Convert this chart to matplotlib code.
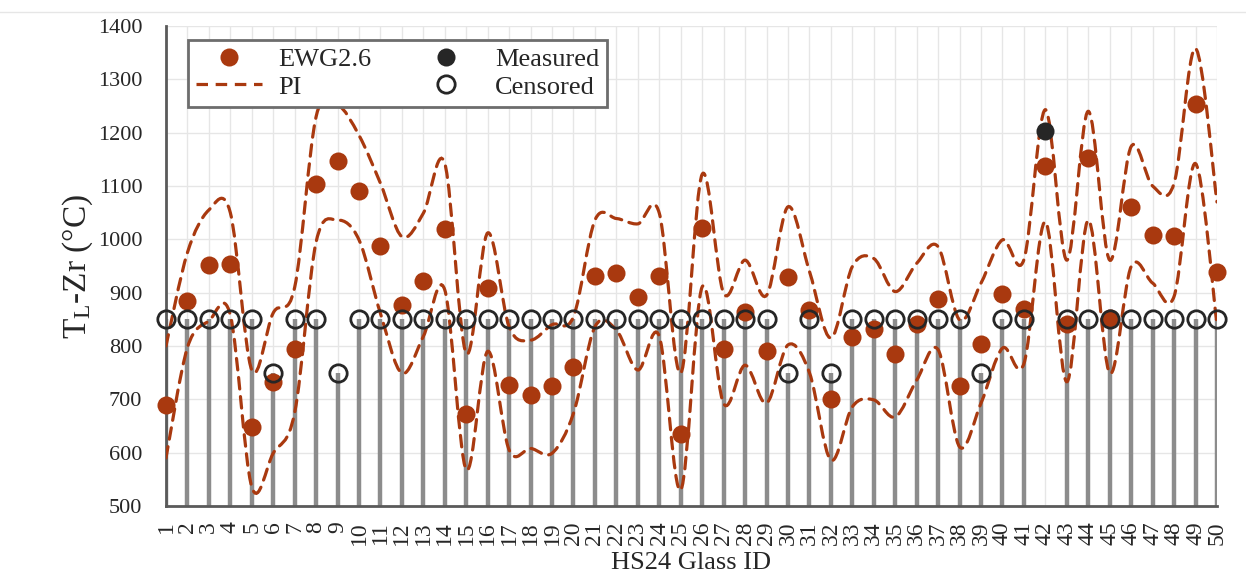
import numpy as np
import matplotlib.pyplot as plt
from matplotlib.path import Path
from matplotlib.patches import PathPatch
from matplotlib.lines import Line2D

plt.rcParams['font.family'] = ['Liberation Serif', 'DejaVu Serif']
plt.rcParams['mathtext.fontset'] = 'custom'
plt.rcParams['mathtext.rm'] = 'Liberation Serif'
plt.rcParams['mathtext.it'] = 'Liberation Serif:italic'

glass_id = list(range(1, 51))

ewg = [690, 884, 951, 954, 648, 733, 794, 1104, 1146, 1090,
       987, 876, 922, 1019, 673, 908, 726, 709, 725, 761,
       932, 936, 891, 932, 635, 1022, 795, 863, 791, 930,
       868, 700, 816, 831, 785, 841, 889, 725, 803, 898,
       870, 1137, 841, 1152, 852, 1061, 1008, 1007, 1253, 939]

pi_upper = [800, 975, 1055, 1050, 755, 862, 910, 1230, 1252, 1195,
            1105, 1005, 1049, 1142, 786, 1012, 836, 811, 840, 855,
            1036, 1039, 1029, 1049, 749, 1122, 899, 961, 895, 1061,
            940, 815, 949, 964, 902, 955, 986, 849, 918, 999,
            962, 1243, 961, 1240, 961, 1174, 1100, 1105, 1358, 1070]

pi_lower = [590, 797, 847, 858, 536, 599, 675, 995, 1036, 999,
            861, 749, 818, 905, 568, 790, 605, 608, 599, 674,
            836, 830, 755, 818, 530, 911, 692, 764, 693, 802,
            750, 586, 686, 699, 667, 736, 793, 611, 693, 796,
            767, 1033, 733, 1036, 749, 949, 918, 893, 1142, 840]

censored = [850, 850, 850, 850, 850, 750, 850, 850, 750, 850,
            850, 850, 850, 850, 850, 850, 850, 850, 850, 850,
            850, 850, 850, 850, 850, 850, 850, 850, 850, 750,
            850, 750, 850, 850, 850, 850, 850, 850, 750, 850,
            850, np.nan, 850, 850, 850, 850, 850, 850, 850, 850]

measured_id = [42]
measured = [1204]

red = '#A9390F'
dark = '#262626'


def smooth_path(x, y):
    # Bezier curve through the points, like a spreadsheet "smoothed line"
    n = len(x)
    verts = [(x[0], y[0])]
    codes = [Path.MOVETO]
    for i in range(n - 1):
        a = max(i - 1, 0)
        b = min(i + 2, n - 1)
        c1 = (x[i] + (x[i + 1] - x[a]) / 6, y[i] + (y[i + 1] - y[a]) / 6)
        c2 = (x[i + 1] - (x[b] - x[i]) / 6, y[i + 1] - (y[b] - y[i]) / 6)
        verts += [c1, c2, (x[i + 1], y[i + 1])]
        codes += [Path.CURVE4] * 3
    return Path(verts, codes)


fig = plt.figure(figsize=(12.46, 5.77), dpi=100)
ax = fig.add_axes([0.1332, 0.123, 0.8435, 0.832])

x = np.array(glass_id)
cens = np.array(censored, dtype=float)
ok = ~np.isnan(cens)

ax.vlines(x[ok], 500, cens[ok], color='#8c8c8c', lw=3.2, zorder=2)

dash = (0, (3.6, 2.4))
for band in (pi_upper, pi_lower):
    ax.add_patch(PathPatch(smooth_path(x, band), fill=False, edgecolor=red,
                           lw=2.3, linestyle=dash, zorder=3, capstyle='round'))

ax.plot(x, ewg, 'o', color=red, ms=13, mew=0, zorder=4, clip_on=False)
ax.plot(x[ok], cens[ok], 'o', mfc='none', mec=dark, ms=12.5, mew=2, zorder=5, clip_on=False)
ax.plot(measured_id, measured, 'o', color=dark, ms=13, mew=0, zorder=6, clip_on=False)

ax.set_xlim(1, 50)
ax.set_ylim(500, 1400)
ax.set_xticks(glass_id)
ax.set_xticklabels([str(i) for i in glass_id], rotation=90, fontsize=17, color=dark)
ax.set_yticks(range(500, 1401, 100))
ax.tick_params(axis='y', labelsize=16, labelcolor=dark, length=0, pad=17)
ax.tick_params(axis='x', length=0, pad=11)
ax.grid(True, color='#e6e6e6', lw=1, zorder=0)
ax.set_axisbelow(True)
for s in ['top', 'right']:
    ax.spines[s].set_visible(False)
for s in ['left', 'bottom']:
    ax.spines[s].set_color('#5a5a5a')
    ax.spines[s].set_linewidth(2)

ax.set_ylabel(r'T$_\mathrm{L}$-Zr (°C)', fontsize=24, color=dark, labelpad=2)
ax.set_xlabel('HS24 Glass ID', fontsize=19, color=dark, labelpad=5)

handles = [
    Line2D([], [], ls='none', marker='o', color=red, ms=13, mew=0),
    Line2D([], [], color=red, lw=2.3, ls=dash),
    Line2D([], [], ls='none', marker='o', color=dark, ms=13, mew=0),
    Line2D([], [], ls='none', marker='o', mfc='none', mec=dark, ms=12.5, mew=2),
]
labels = ['EWG2.6', 'PI', 'Measured', 'Censored']
leg = ax.legend(handles, labels, ncol=2, loc='upper left', bbox_to_anchor=(0.021, 0.971),
                fontsize=19, frameon=True, fancybox=False, framealpha=1,
                edgecolor='#6d6d6d', handlelength=2.5, handletextpad=0.6,
                columnspacing=1.6, labelspacing=0.15, borderpad=0.3, borderaxespad=0)
leg.get_frame().set_linewidth(2)
for t in leg.get_texts():
    t.set_color(dark)

fig.add_artist(Line2D([0, 1], [1 - 11.5 / 577] * 2, color='#e6e6e6', lw=1))

plt.savefig('out.png', dpi=100)
